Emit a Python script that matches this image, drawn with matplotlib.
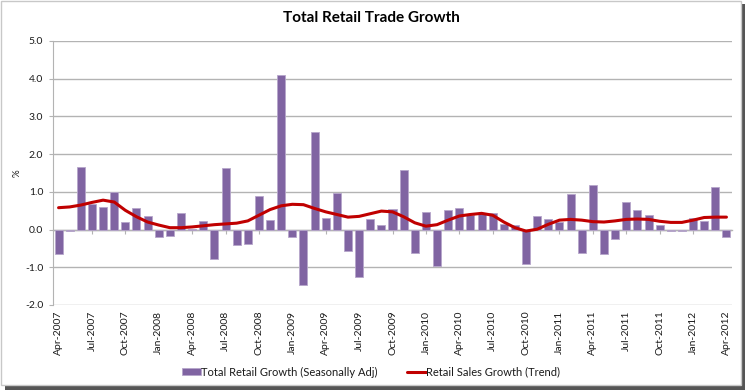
import matplotlib
matplotlib.use("Agg")
import matplotlib.pyplot as plt
import numpy as np
from matplotlib.patches import Rectangle

plt.rcParams["font.family"] = ["Lato", "DejaVu Sans"]

# monthly data, Apr-2007 .. Apr-2012
months = ["Jan", "Feb", "Mar", "Apr", "May", "Jun",
          "Jul", "Aug", "Sep", "Oct", "Nov", "Dec"]
start_year = 2007
start_month = 3  # Apr
n_months = 61

retail_growth = [
    -0.66, -0.05, 1.65, 0.69, 0.60, 1.00, 0.19, 0.58, 0.36,
    -0.21, -0.16, 0.43, 0.02, 0.23, -0.79, 1.62, -0.42, -0.37, 0.89, 0.25, 4.09,
    -0.19, -1.48, 2.58, 0.31, 0.96, -0.56, -1.27, 0.28, 0.12, 0.54, 1.57, -0.63,
    0.47, -0.96, 0.51, 0.58, 0.38, 0.44, 0.44, 0.16, 0.13, -0.92, 0.36, 0.27,
    0.19, 0.95, -0.61, 1.18, -0.64, -0.26, 0.72, 0.53, 0.38, 0.12, -0.03, -0.03,
    0.32, 0.22, 1.14, -0.21,
]
trend_growth = [
    0.58, 0.60, 0.65, 0.72, 0.78, 0.73, 0.51, 0.34, 0.20,
    0.12, 0.05, 0.05, 0.07, 0.10, 0.13, 0.15, 0.17, 0.23, 0.38, 0.53, 0.63,
    0.67, 0.66, 0.56, 0.47, 0.40, 0.33, 0.35, 0.42, 0.49, 0.47, 0.34, 0.18,
    0.09, 0.13, 0.25, 0.36, 0.40, 0.43, 0.38, 0.20, 0.05, -0.04, 0.01, 0.14,
    0.25, 0.27, 0.25, 0.21, 0.20, 0.23, 0.27, 0.28, 0.27, 0.22, 0.19, 0.19,
    0.25, 0.32, 0.33, 0.33,
]

labels = []
for k in range(n_months):
    m = start_month + k
    labels.append(f"{months[m % 12]}-{start_year + m // 12}")

bar_color = "#8064A2"
line_color = "#C00000"
grid_color = "#B3B3B3"
text_color = "#1a1a1a"

fig = plt.figure(figsize=(7.47, 3.92), dpi=100)
ax = fig.add_axes([53 / 747, 1 - 305 / 392, 679 / 747, 264 / 392])

x = np.arange(n_months)
bars = ax.bar(x, retail_growth, width=0.72, color=bar_color,
              edgecolor="#B6A6CB", linewidth=0.6,
              label="Total Retail Growth (Seasonally Adj)", zorder=2)
line, = ax.plot(x, trend_growth, color=line_color, linewidth=2.2,
                label="Retail Sales Growth (Trend)", zorder=3,
                solid_capstyle="round")

ax.set_xlim(-0.5, n_months - 0.5)
ax.set_ylim(-2.0, 5.0)
yticks = np.arange(-2, 5.1, 1.0)
ax.set_yticks(yticks)
ax.set_yticklabels([f"{v:.1f}" for v in yticks], fontsize=7.5,
                   color=text_color)
ax.yaxis.grid(True, color=grid_color, linewidth=1.0, zorder=0)
ax.set_axisbelow(True)

ticks = x[::3]
ax.set_xticks(ticks)
ax.set_xticklabels([labels[i] for i in ticks], rotation=90, fontsize=7.5,
                   color=text_color)
ax.tick_params(axis="x", length=0, pad=4)
ax.tick_params(axis="y", length=3, color=grid_color, pad=4)

for side in ["top", "right", "bottom"]:
    ax.spines[side].set_visible(False)
ax.spines["left"].set_color(grid_color)

# x axis line crossing at zero
zero_axis = ax.secondary_xaxis(2 / 7)
zero_axis.set_xticks(ticks)
zero_axis.set_xticklabels([])
zero_axis.tick_params(axis="x", direction="out", length=3, color=grid_color)
zero_axis.spines["bottom"].set_color(grid_color)
zero_axis.spines["bottom"].set_linewidth(1.0)

fig.text(17 / 747, 1 - 173 / 392, "%", rotation=90, ha="center",
         va="center", fontsize=7, color=text_color)

fig.text(371 / 747, 1 - 18 / 392, "Total Retail Trade Growth", ha="center",
         va="center", fontsize=11, fontweight="bold", color="black")

leg = ax.legend(handles=[bars, line], loc="center",
                bbox_to_anchor=(371 / 747, 1 - 372 / 392),
                bbox_transform=fig.transFigure, ncol=2, frameon=False,
                fontsize=8, handlelength=1.7, handleheight=0.6,
                handletextpad=0.05, columnspacing=2.6)
for t in leg.get_texts():
    t.set_color(text_color)

# chart frame with shadow
fig.patches.append(Rectangle((5 / 747, 1 - 390 / 392), 740 / 747, 386 / 392,
                             transform=fig.transFigure, facecolor="#555555",
                             edgecolor="none", zorder=-2))
fig.patches.append(Rectangle((1 / 747, 1 - 385 / 392), 740 / 747, 384 / 392,
                             transform=fig.transFigure, facecolor="white",
                             edgecolor="#C8C8C8", linewidth=1.0, zorder=-1))

fig.savefig("out.png", dpi=100)
